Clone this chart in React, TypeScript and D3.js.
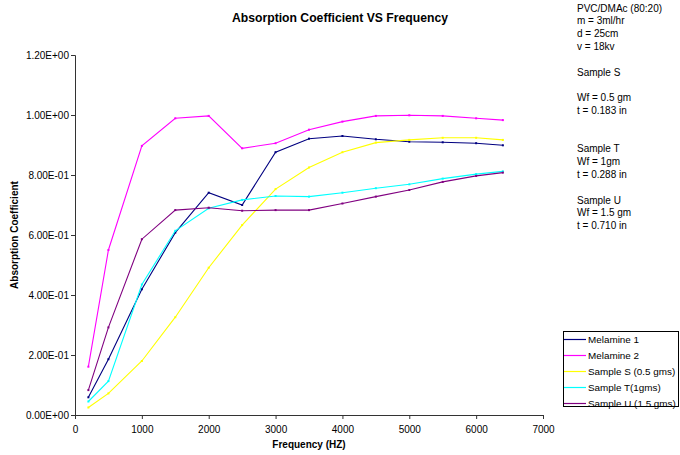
import { useEffect, useRef } from "react";
import * as d3 from "d3";

const frequencies = [200, 500, 1000, 1500, 2000, 2500, 3000, 3500, 4000, 4500, 5000, 5500, 6000, 6400];

const melamine1 = [0.059, 0.186, 0.419, 0.608, 0.741, 0.7, 0.876, 0.921, 0.93, 0.919, 0.911, 0.909, 0.906, 0.899];
const melamine2 = [0.161, 0.55, 0.897, 0.989, 0.997, 0.889, 0.906, 0.951, 0.978, 0.997, 0.999, 0.997, 0.989, 0.983];
const sampleS = [0.025, 0.072, 0.18, 0.326, 0.491, 0.633, 0.753, 0.825, 0.876, 0.908, 0.917, 0.924, 0.924, 0.917];
const sampleT = [0.045, 0.113, 0.435, 0.614, 0.689, 0.717, 0.73, 0.728, 0.741, 0.756, 0.769, 0.788, 0.803, 0.812];
const sampleU = [0.083, 0.292, 0.586, 0.683, 0.691, 0.681, 0.683, 0.683, 0.705, 0.728, 0.75, 0.777, 0.797, 0.808];

const seriesNames = ["Melamine 1", "Melamine 2", "Sample S (0.5 gms)", "Sample T(1gms)", "Sample U (1.5 gms)"];
const seriesColors = ["#000080", "#ff00ff", "#ffff00", "#00ffff", "#800080"];
const seriesValues = [melamine1, melamine2, sampleS, sampleT, sampleU];

const xTicks = [0, 1000, 2000, 3000, 4000, 5000, 6000, 7000];
const yTicks = [0, 0.2, 0.4, 0.6, 0.8, 1.0, 1.2];

const notes = [
  "PVC/DMAc (80:20)",
  "m = 3ml/hr",
  "d = 25cm",
  "v = 18kv",
  "",
  "Sample S",
  "",
  "Wf = 0.5 gm",
  "t = 0.183 in",
  "",
  "",
  "Sample T",
  "Wf = 1gm",
  "t = 0.288 in",
  "",
  "Sample U",
  "Wf = 1.5 gm",
  "t = 0.710 in",
];

const font = "'Liberation Sans', Arial, sans-serif";

// Excel style scientific labels: 1.20E+00
const fmtE = (v: number) => {
  const [m, e] = v.toExponential(2).split("e");
  const n = Math.abs(parseInt(e));
  return `${m}E${parseInt(e) < 0 ? "-" : "+"}${n < 10 ? "0" + n : n}`;
};

export default function App() {
  const xAxisRef = useRef<SVGGElement>(null);
  const yAxisRef = useRef<SVGGElement>(null);

  const x = d3.scaleLinear().domain([0, 7000]).range([75, 543]);
  const y = d3.scaleLinear().domain([0, 1.2]).range([415, 55]);

  useEffect(() => {
    const xa = d3
      .select(xAxisRef.current!)
      .call(d3.axisBottom(x).tickValues(xTicks).tickFormat((d) => String(d)).tickSize(4).tickSizeOuter(4));
    const ya = d3
      .select(yAxisRef.current!)
      .call(d3.axisLeft(y).tickValues(yTicks).tickFormat((d) => fmtE(+d)).tickSize(4).tickSizeOuter(4));
    [xa, ya].forEach((g) => {
      g.selectAll("path, line").attr("stroke", "#333").attr("stroke-width", 1);
      g.selectAll("text").attr("fill", "#000").attr("font-family", font).attr("font-size", 10);
    });
    xa.selectAll("text").attr("dy", "1.1em");
    ya.selectAll("text").attr("x", -6);
  }, []);

  const line = d3
    .line<number>()
    .x((_, i) => x(frequencies[i]))
    .y((d) => y(d));

  return (
    <svg width={680} height={455} style={{ position: "absolute", left: 0, top: 0, background: "#fff" }}>
      <rect width={680} height={455} fill="#fff" />
      <text x={340} y={22} textAnchor="middle" fontFamily={font} fontSize={12.2} fontWeight="bold">
        Absorption Coefficient VS Frequency
      </text>
      {seriesValues.map((vals, s) => (
        <g key={s}>
          <path d={line(vals)!} fill="none" stroke={seriesColors[s]} strokeWidth={1.1} />
          {vals.map((v, i) => (
            <rect key={i} x={x(frequencies[i]) - 1} y={y(v) - 1} width={2} height={2} fill={seriesColors[s]} />
          ))}
        </g>
      ))}
      <g ref={xAxisRef} transform={`translate(0,${y(0)})`} />
      <g ref={yAxisRef} transform={`translate(${x(0)},0)`} />
      <text x={309} y={448} textAnchor="middle" fontFamily={font} fontSize={10} fontWeight="bold">
        Frequency (HZ)
      </text>
      <text
        transform={`translate(18,${(y(0) + y(1.2)) / 2}) rotate(-90)`}
        textAnchor="middle"
        fontFamily={font}
        fontSize={10}
        fontWeight="bold"
      >
        Absorption Coefficient
      </text>
      {notes.map((t, i) => (
        <text key={i} x={577} y={11.5 + i * 12.8} fontFamily={font} fontSize={10}>
          {t}
        </text>
      ))}
      <g>
        <rect x={563.5} y={331.5} width={115} height={75} fill="#fff" stroke="#000" strokeWidth={1} />
        {seriesNames.map((n, i) => (
          <g key={n} transform={`translate(563,${339.5 + i * 16})`}>
            <line x1={1} x2={23} y1={0} y2={0} stroke={seriesColors[i]} strokeWidth={1.2} />
            <text x={25} y={3.5} fontFamily={font} fontSize={9.9}>
              {n}
            </text>
          </g>
        ))}
      </g>
    </svg>
  );
}
